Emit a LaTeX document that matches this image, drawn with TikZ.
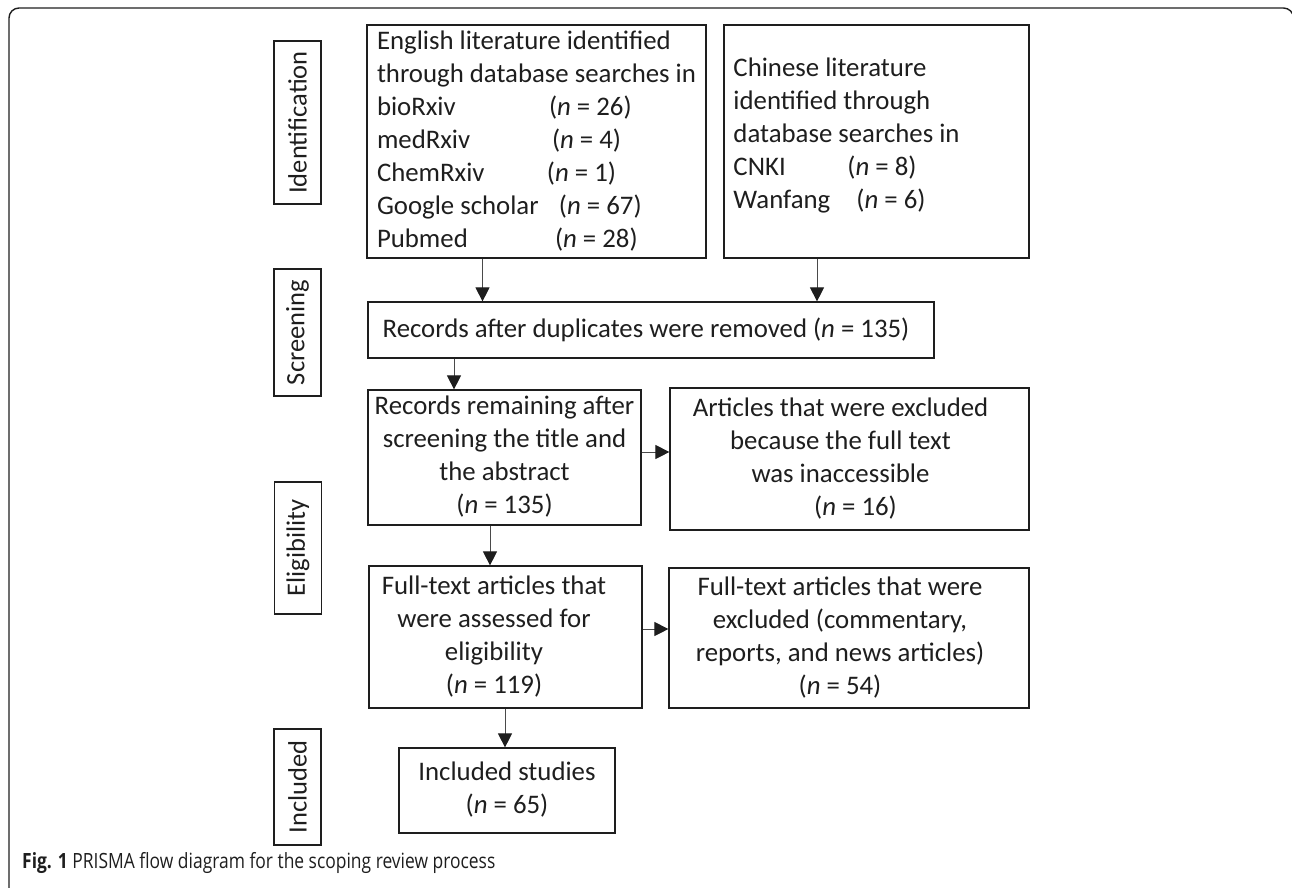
\documentclass[tikz,border=0pt]{standalone}
\usepackage{fontspec}
\setmainfont{Carlito}
\newfontfamily\capfont[FakeStretch=0.83]{Open Sans}
\usetikzlibrary{arrows.meta}
\definecolor{ink}{HTML}{1E1E1E}
\definecolor{lin}{HTML}{4A4A4A}
\newcommand\myfont{\fontsize{26.8}{33}\selectfont}
\newcommand\sidefont{\fontsize{26.5}{30}\selectfont}
\newcommand\tbc[1]{\begin{tabular}{@{}c@{}}#1\end{tabular}}
\newcommand\tbl[1]{\begin{tabular}{@{}l@{}}#1\end{tabular}}
\newcommand\padr[1]{\makebox[#1]{}}
\begin{document}
\begin{tikzpicture}[x=1pt,y=-1pt,
  box/.style={draw=ink, line width=1.2pt, inner sep=0pt, text=ink, font=\myfont},
  lab/.style={draw=ink, line width=1.2pt, inner sep=0pt, rotate=90, minimum height=47pt, text=ink, font=\sidefont},
  arr/.style={draw=lin, line width=0.9pt, -{Triangle[length=14pt,width=14pt,color=ink]}},
  frame/.style={draw=ink, line width=1.4pt, rounded corners=10pt}]
\useasboundingbox (0,0) rectangle (1292,887);
\draw[frame] (9,895) -- (9,8) -- (1293.5,8) -- (1293.5,895);

% side labels
\node[lab, minimum width=163pt] (lid) at (297.5,122.5) {Identification};
\node[lab, minimum width=127pt] (lscr) at (297.5,332.5) {Screening};
\node[lab, minimum width=132pt] (lel) at (298,548) {Eligibility};
\node[lab, minimum width=116pt] (lin) at (297.5,787) {Included};

% boxes
\node[box, minimum width=339pt, minimum height=233pt] (eng) at (536.5,141.5)
 {\tbl{English literature identified\\
  through database searches in\\
  \makebox[172pt][l]{bioRxiv}(\textit{n} = 26)\\
  \makebox[175pt][l]{medRxiv}(\textit{n} = 4)\\
  \makebox[170pt][l]{ChemRxiv}(\textit{n} = 1)\\
  \makebox[182pt][l]{Google scholar}(\textit{n} = 67)\\
  \makebox[178pt][l]{Pubmed}(\textit{n} = 28)}};
\node[box, minimum width=305pt, minimum height=233pt] (chn) at (876.5,141.5)
 {\tbl{Chinese literature\\
  identified through\\
  database searches in\\
  \makebox[114pt][l]{CNKI}(\textit{n} = 8)\\
  \makebox[123pt][l]{Wanfang}(\textit{n} = 6)\rule[-20.9pt]{0pt}{20.9pt}}\padr{60pt}};
\node[box, minimum width=566pt, minimum height=56pt] (dup) at (651,330)
 {Records after duplicates were removed (\textit{n} = 135)\padr{10pt}};
\node[box, minimum width=273pt, minimum height=135pt] (rem) at (504.5,457.5)
 {\tbc{Records remaining after\\ screening the title and\\ the abstract\\ (\textit{n} = 135)}};
\node[box, minimum width=359pt, minimum height=142pt] (inacc) at (849.5,459)
 {\tbc{Articles that were excluded\\ because the full text\\ was inaccessible\\ \hspace*{30pt}(\textit{n} = 16)}\padr{18pt}};
\node[box, minimum width=273pt, minimum height=142pt] (full) at (505.5,637)
 {\tbc{Full-text articles that\\ were assessed for\\ eligibility\\ (\textit{n} = 119)}\padr{23pt}};
\node[box, minimum width=360pt, minimum height=140pt] (fexc) at (849,638)
 {\tbc{Full-text articles that were\\ excluded (commentary,\\ reports, and news articles)\\ (\textit{n} = 54)}\padr{18pt}};
\node[box, minimum width=216pt, minimum height=85pt] (incl) at (507,790.5)
 {\tbc{Included studies\\ (\textit{n} = 65)}};

% arrow guide coordinates
\coordinate (a1) at (482.5,0);
\coordinate (a2) at (817,0);
\coordinate (a3) at (454,0);
\coordinate (a4) at (0,452);
\coordinate (a5) at (490,0);
\coordinate (a6) at (0,629);
\coordinate (a7) at (505,0);

\draw[arr] (eng.south -| a1) -- (dup.north -| a1);
\draw[arr] (chn.south -| a2) -- (dup.north -| a2);
\draw[arr] (dup.south -| a3) -- (rem.north -| a3);
\draw[arr] (rem.east |- a4) -- (inacc.west |- a4);
\draw[arr] (rem.south -| a5) -- (full.north -| a5);
\draw[arr] (full.east |- a6) -- (fexc.west |- a6);
\draw[arr] (full.south -| a7) -- (incl.north -| a7);

% caption
\node[anchor=base west, inner sep=0pt, text=ink] (cap) at (22,868)
 {\capfont\fontsize{21}{25}\selectfont\textbf{Fig. 1} PRISMA flow diagram for the scoping review process};
\end{tikzpicture}
\end{document}
